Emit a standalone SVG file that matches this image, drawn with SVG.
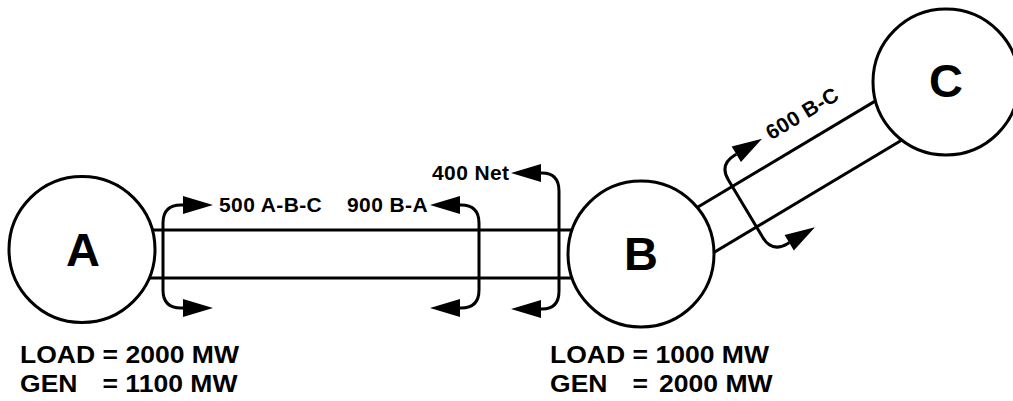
<svg xmlns="http://www.w3.org/2000/svg" width="1013" height="401" viewBox="0 0 1013 401">
<style>
.ln{stroke:#000;stroke-width:3;fill:none}
.br{stroke:#000;stroke-width:3;fill:none;marker-start:url(#ah);marker-end:url(#ah)}
.nd{stroke:#000;stroke-width:3;fill:#fff}
.big{font-family:"Liberation Sans",Arial,sans-serif;font-weight:bold;font-size:47px;text-anchor:middle}
.lbl{font-family:"Liberation Sans",Arial,sans-serif;font-weight:bold;font-size:21px;letter-spacing:0.4px}
.info{font-family:"Liberation Sans",Arial,sans-serif;font-weight:bold;font-size:23px}
</style>
<defs>
<marker id="ah" markerUnits="userSpaceOnUse" markerWidth="31" markerHeight="19" refX="0" refY="9" orient="auto-start-reverse" overflow="visible">
<path d="M0,0 L30,9 L0,18 Z" fill="#000"/>
</marker>
</defs>
<g id="connectors">
<line class="ln" x1="100" y1="230" x2="600" y2="230"/>
<line class="ln" x1="100" y1="278" x2="600" y2="278"/>
<line class="ln" x1="680.8" y1="217.3" x2="886.8" y2="94.1"/>
<line class="ln" x1="695.8" y1="263.3" x2="910.3" y2="135"/>
<path class="br" d="M183,205 L181,205 Q163,205 163,223 L163,290 Q163,308 181,308 L183,308"/>
<path class="br" d="M460,205 L461,205 Q479,205 479,223 L479,290 Q479,308 461,308 L460,308"/>
<path class="br" d="M541,173 L542,173 Q559,173 559,191 L559,291 Q559,309 542,309 L541,309"/>
<g transform="translate(732,186) rotate(-30.9)">
<path class="br" d="M20,-25 L18,-25 Q0,-25 0,-7 L0,60 Q0,78 18,78 L20,78"/>
<text class="lbl" x="57" y="-19">600 B-C</text>
</g>
<text class="lbl" x="219" y="212">500 A-B-C</text>
<text class="lbl" x="347" y="212">900 B-A</text>
<text class="lbl" x="432" y="180">400 Net</text>
</g>
<g id="node-A">
<circle class="nd" cx="82" cy="249.5" r="73"/>
<text class="big" x="83" y="266">A</text>
</g>
<g id="node-B">
<circle class="nd" cx="641" cy="254" r="73"/>
<text class="big" x="641" y="270">B</text>
</g>
<g id="node-C">
<circle class="nd" cx="946" cy="82" r="73"/>
<text class="big" x="946" y="97">C</text>
</g>
<g id="info-A" transform="translate(20,0) scale(1.154,1)">
<text class="info" x="0" y="363">LOAD = 2000 MW</text>
<text class="info" x="0" y="392">GEN<tspan x="71.5">= 1100 MW</tspan></text>
</g>
<g id="info-B" transform="translate(550,0) scale(1.154,1)">
<text class="info" x="0" y="363">LOAD = 1000 MW</text>
<text class="info" x="0" y="392">GEN<tspan x="71.5">=</tspan><tspan x="94.5">2000 MW</tspan></text>
</g>
</svg>
